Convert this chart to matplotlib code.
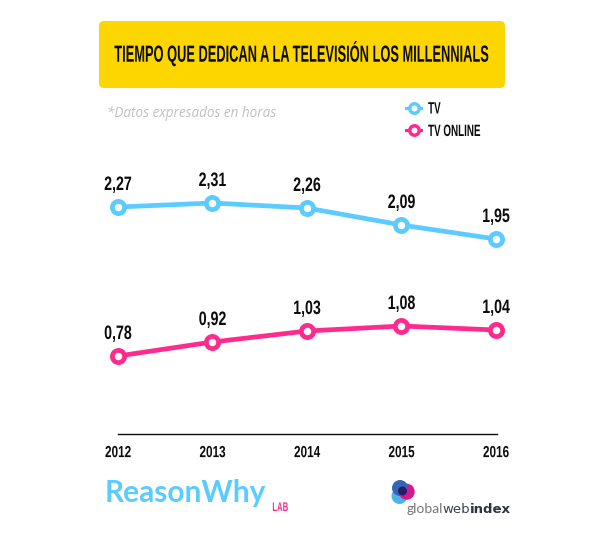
import matplotlib
matplotlib.use("Agg")
import matplotlib.pyplot as plt
from matplotlib.patches import FancyBboxPatch, Circle
from matplotlib.patheffects import AbstractPathEffect
from matplotlib.text import Text
from matplotlib.transforms import Affine2D, Bbox, offset_copy

# data
years = [2012, 2013, 2014, 2015, 2016]
tv = [2.27, 2.31, 2.26, 2.09, 1.95]
tv_online = [0.78, 0.92, 1.03, 1.08, 1.04]
series_names = ["TV", "TV ONLINE"]
title = "TIEMPO QUE DEDICAN A LA TELEVISIÓN LOS MILLENNIALS"
note = "*Datos expresados en horas"

BLUE = "#5ccbff"
PINK = "#ff2a8d"
YELLOW = "#fdd600"
INK = "#0c0c0c"
BASE = "Liberation Sans"


# no condensed font installed, so reshape the glyphs when they are drawn
class Squeeze(AbstractPathEffect):
    def __init__(self, sx, ha="left", sy=1.0):
        super().__init__()
        self.sx = sx
        self.sy = sy
        self.ha = ha

    def draw_path(self, renderer, gc, tpath, affine, rgbFace=None):
        box = tpath.get_extents(affine)
        cx = box.x0 if self.ha == "left" else (box.x0 + box.x1) / 2
        cy = affine.transform((0, 0))[1]
        squeezed = affine + Affine2D().translate(-cx, -cy).scale(self.sx, self.sy).translate(cx, cy)
        renderer.draw_path(gc, tpath, squeezed, rgbFace)


class NarrowText(Text):
    def __init__(self, x, y, s, sx=0.6, sy=1.0, **kw):
        super().__init__(x, y, s, **kw)
        self.sx = sx
        self.set_path_effects([Squeeze(sx, self.get_ha(), sy)])

    def get_window_extent(self, renderer=None, dpi=None):
        bb = super().get_window_extent(renderer, dpi)
        cx = bb.x0 if self.get_ha() == "left" else (bb.x0 + bb.x1) / 2
        return Bbox([[cx + (bb.x0 - cx) * self.sx, bb.y0], [cx + (bb.x1 - cx) * self.sx, bb.y1]])


fig = plt.figure(figsize=(6, 5.44), dpi=100, facecolor="white")

# overlay in pixel coords for the banner, legend and logos
bg = fig.add_axes([0, 0, 1, 1])
bg.set_xlim(0, 600)
bg.set_ylim(544, 0)
bg.axis("off")

bg.add_patch(FancyBboxPatch((99, 21), 406, 67, boxstyle="round,pad=0,rounding_size=5",
                            fc=YELLOW, ec="none"))
bg.add_artist(NarrowText(302.5, 61.7, title, sx=0.642, sy=1.167, ha="center", va="baseline",
                         fontsize=14.4, weight="bold", family=BASE, color=INK))
bg.text(107, 113.5, note, ha="left", va="center", fontsize=9.75, style="italic",
        family="Open Sans", color="#c0c0c0")

# legend
for yy, col, name in zip([107.5, 130], [BLUE, PINK], series_names):
    bg.plot([406, 421], [yy, yy], color=col, lw=2.2, zorder=2)
    bg.plot([413.5], [yy], marker="o", ms=6.8, mfc="white", mec=col, mew=2.5, zorder=3)
    bg.add_artist(NarrowText(428, yy + 6, name, sx=0.6, ha="left", va="baseline", fontsize=11.8,
                             weight="bold", family=BASE, color=INK))

# logos
bg.text(105, 502, "ReasonWhy", ha="left", va="baseline", fontsize=21.5, weight="bold",
        family="Lato", color=BLUE)
bg.add_artist(NarrowText(272, 511, "LAB", sx=0.62, ha="left", va="baseline", fontsize=9,
                         weight="bold", family=BASE, color=PINK))
bg.add_patch(Circle((399.5, 496), 8, fc="#4fb3ea", ec="none"))
bg.add_patch(Circle((406.7, 491.7), 8, fc="#d5168c", ec="none"))
bg.add_patch(Circle((400, 488), 8, fc="#3565b5", ec="none"))
bg.add_patch(Circle((402.5, 491), 4.5, fc="#2a1b66", ec="none"))
bg.text(407, 513, "global", ha="left", va="baseline", fontsize=10, family="Lato", color="#777777")
bg.text(442, 513, "web", ha="left", va="baseline", fontsize=9.5, family="DejaVu Sans", color="#3a4048")
bg.text(470, 513, "index", ha="left", va="baseline", fontsize=9.5, weight="bold",
        family="DejaVu Sans", color="#2e343c")

# chart, baseline at zero
ax = fig.add_axes([118 / 600, (544 - 434) / 544, (497 - 118) / 600, 300 / 544])
ax.patch.set_alpha(0)
ax.set_xlim(years[0], years[-1] + 1 / 378 * 4)
ax.set_ylim(0, 3)
for s in ["top", "left", "right"]:
    ax.spines[s].set_visible(False)
ax.spines["bottom"].set_linewidth(1.0)
ax.spines["bottom"].set_color(INK)
ax.set_yticks([])
ax.set_xticks(years)
ax.tick_params(axis="x", length=0, pad=8)
for lab in ax.get_xticklabels():
    lab.set_family(BASE)
    lab.set_weight("bold")
    lab.set_fontsize(11.6)
    lab.set_color(INK)
    lab.set_path_effects([Squeeze(0.73, "center")])

above = offset_copy(ax.transData, fig=fig, x=0, y=17, units="dots")
for vals, col in [(tv, BLUE), (tv_online, PINK)]:
    ax.plot(years, vals, color=col, lw=3.4, marker="o", ms=8.8, mfc="white", mec=col,
            mew=3.4, clip_on=False, solid_capstyle="round")
    for x, v in zip(years, vals):
        ax.add_artist(NarrowText(x, v, f"{v:.2f}".replace(".", ","), sx=0.73, transform=above,
                                 ha="center", va="baseline", fontsize=14, weight="bold",
                                 family=BASE, color=INK, clip_on=False))

fig.savefig("out.png", dpi=100)
